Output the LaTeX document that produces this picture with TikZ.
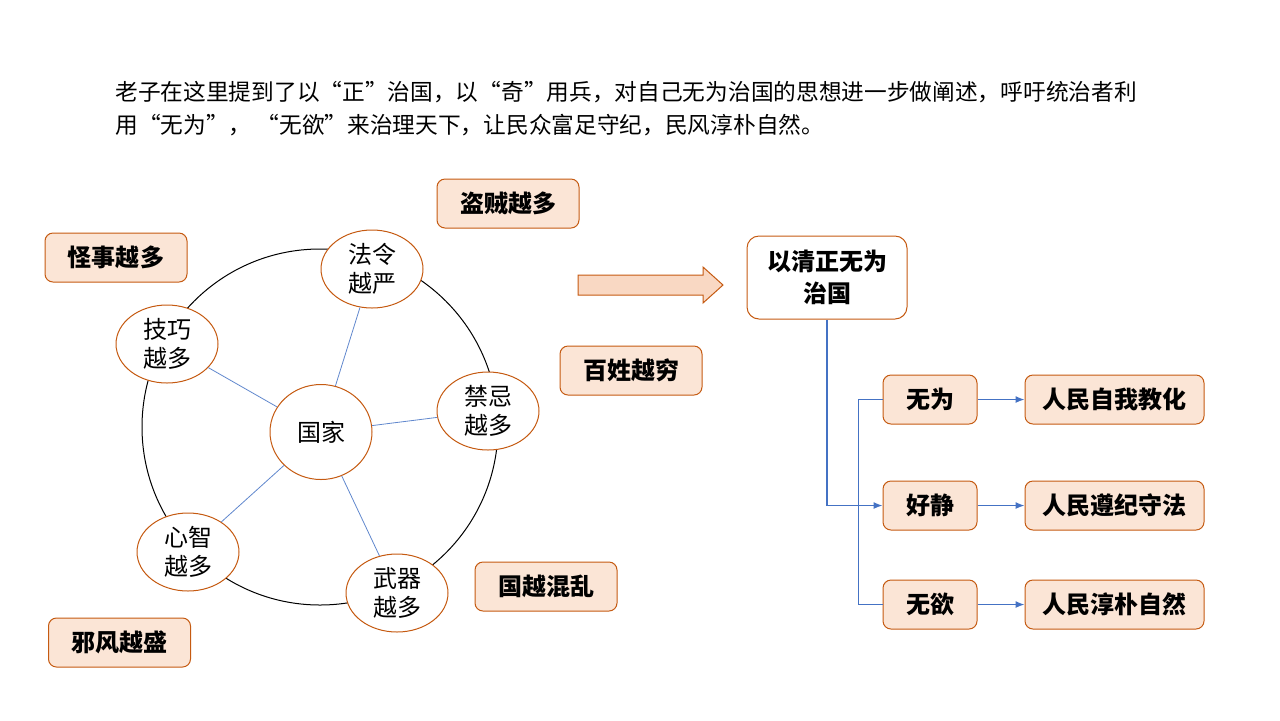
\documentclass[tikz,border=0pt]{standalone}
\usepackage{fontspec}
\setmainfont{Noto Sans CJK SC}
\usetikzlibrary{shapes.geometric,arrows.meta}

\definecolor{rim}{HTML}{C55A11}
\definecolor{peach}{HTML}{FBE5D6}
\definecolor{arrowfill}{HTML}{F9D8C3}
\definecolor{linkblue}{HTML}{4472C4}

\tikzset{
  tag/.style={draw=rim,fill=peach,rounded corners=4pt,line width=0.5pt,
    minimum width=71pt,minimum height=24.5pt,inner sep=0pt,
    font=\fontsize{12}{14}\selectfont\bfseries},
  bubble/.style={ellipse,draw=rim,fill=white,line width=0.5pt,
    minimum width=51pt,minimum height=39pt,inner sep=0pt,align=center,
    font=\fontsize{12}{14.5}\selectfont},
  spoke/.style={linkblue!85,line width=0.4pt},
  flow/.style={linkblue,line width=0.6pt,-{Latex[length=4.5pt,width=3.5pt]}}
}

\begin{document}
\begin{tikzpicture}[x=0.5pt,y=-0.5pt]
\useasboundingbox (0,0) rectangle (1280,720);

\node[anchor=north west,align=left,inner sep=0pt,font=\fontsize{11.35}{16.5}\selectfont] (intro) at (115,81)
  {老子在这里提到了以“正”治国，以“奇”用兵，对自己无为治国的思想进一步做阐述，呼吁统治者利\\
   用“无为”， “无欲”来治理天下，让民众富足守纪，民风淳朴自然。};

% the ring and its bubbles
\node[circle,draw,line width=0.5pt,minimum size=178pt] (ring) at (320,427) {};

\node[bubble] (fa) at (372,269) {法令\\越严};
\node[bubble] (ji) at (167,344) {技巧\\越多};
\node[bubble,minimum height=47.5pt] (guo) at (321,432) {国家};
\node[bubble] (jin) at (488,411) {禁忌\\越多};
\node[bubble] (xin) at (188,552) {心智\\越多};
\node[bubble] (wu) at (397,593) {武器\\越多};

\foreach \n in {fa,ji,jin,xin,wu}
  \draw[spoke] (guo) -- (\n);

\node[tag] (guai) at (116,257.5) {怪事越多};
\node[tag] (dao) at (508,203.5) {盗贼越多};
\node[tag] (bai) at (631,370.5) {百姓越穷};
\node[tag] (luan) at (546,586.5) {国越混乱};
\node[tag] (xie) at (119.5,642.5) {邪风越盛};

% big arrow
\draw[draw=rim,fill=arrowfill,line width=0.5pt]
  (578,275) -- (703,275) -- (703,267) -- (723,285) -- (703,303) -- (703,295) -- (578,295) -- cycle;

% right side
\node[draw=rim,fill=white,rounded corners=6pt,line width=0.5pt,minimum width=80pt,minimum height=41.5pt,
  inner sep=0pt,align=center,font=\fontsize{12}{16}\selectfont\bfseries] (zhi) at (827,277.5) {以清正无为\\治国};

\node[tag,minimum width=47pt] (wuwei) at (930,399.5) {无为};
\node[tag,minimum width=47pt] (jing) at (930,505.5) {好静};
\node[tag,minimum width=47pt] (wuyu) at (930,604.5) {无欲};

\node[tag,minimum width=89.5pt] (jiao) at (1114.5,399.5) {人民自我教化};
\node[tag,minimum width=89.5pt] (shou) at (1114.5,505.5) {人民遵纪守法};
\node[tag,minimum width=89.5pt] (pu) at (1114.5,604.5) {人民淳朴自然};

\draw[flow] (zhi.south) |- (jing.west);
\draw[linkblue,line width=0.6pt] (wuwei.west) -- ++(-24,0) |- (wuyu.west);
\draw[flow] (wuwei) -- (jiao);
\draw[flow] (jing) -- (shou);
\draw[flow] (wuyu) -- (pu);
\end{tikzpicture}
\end{document}
